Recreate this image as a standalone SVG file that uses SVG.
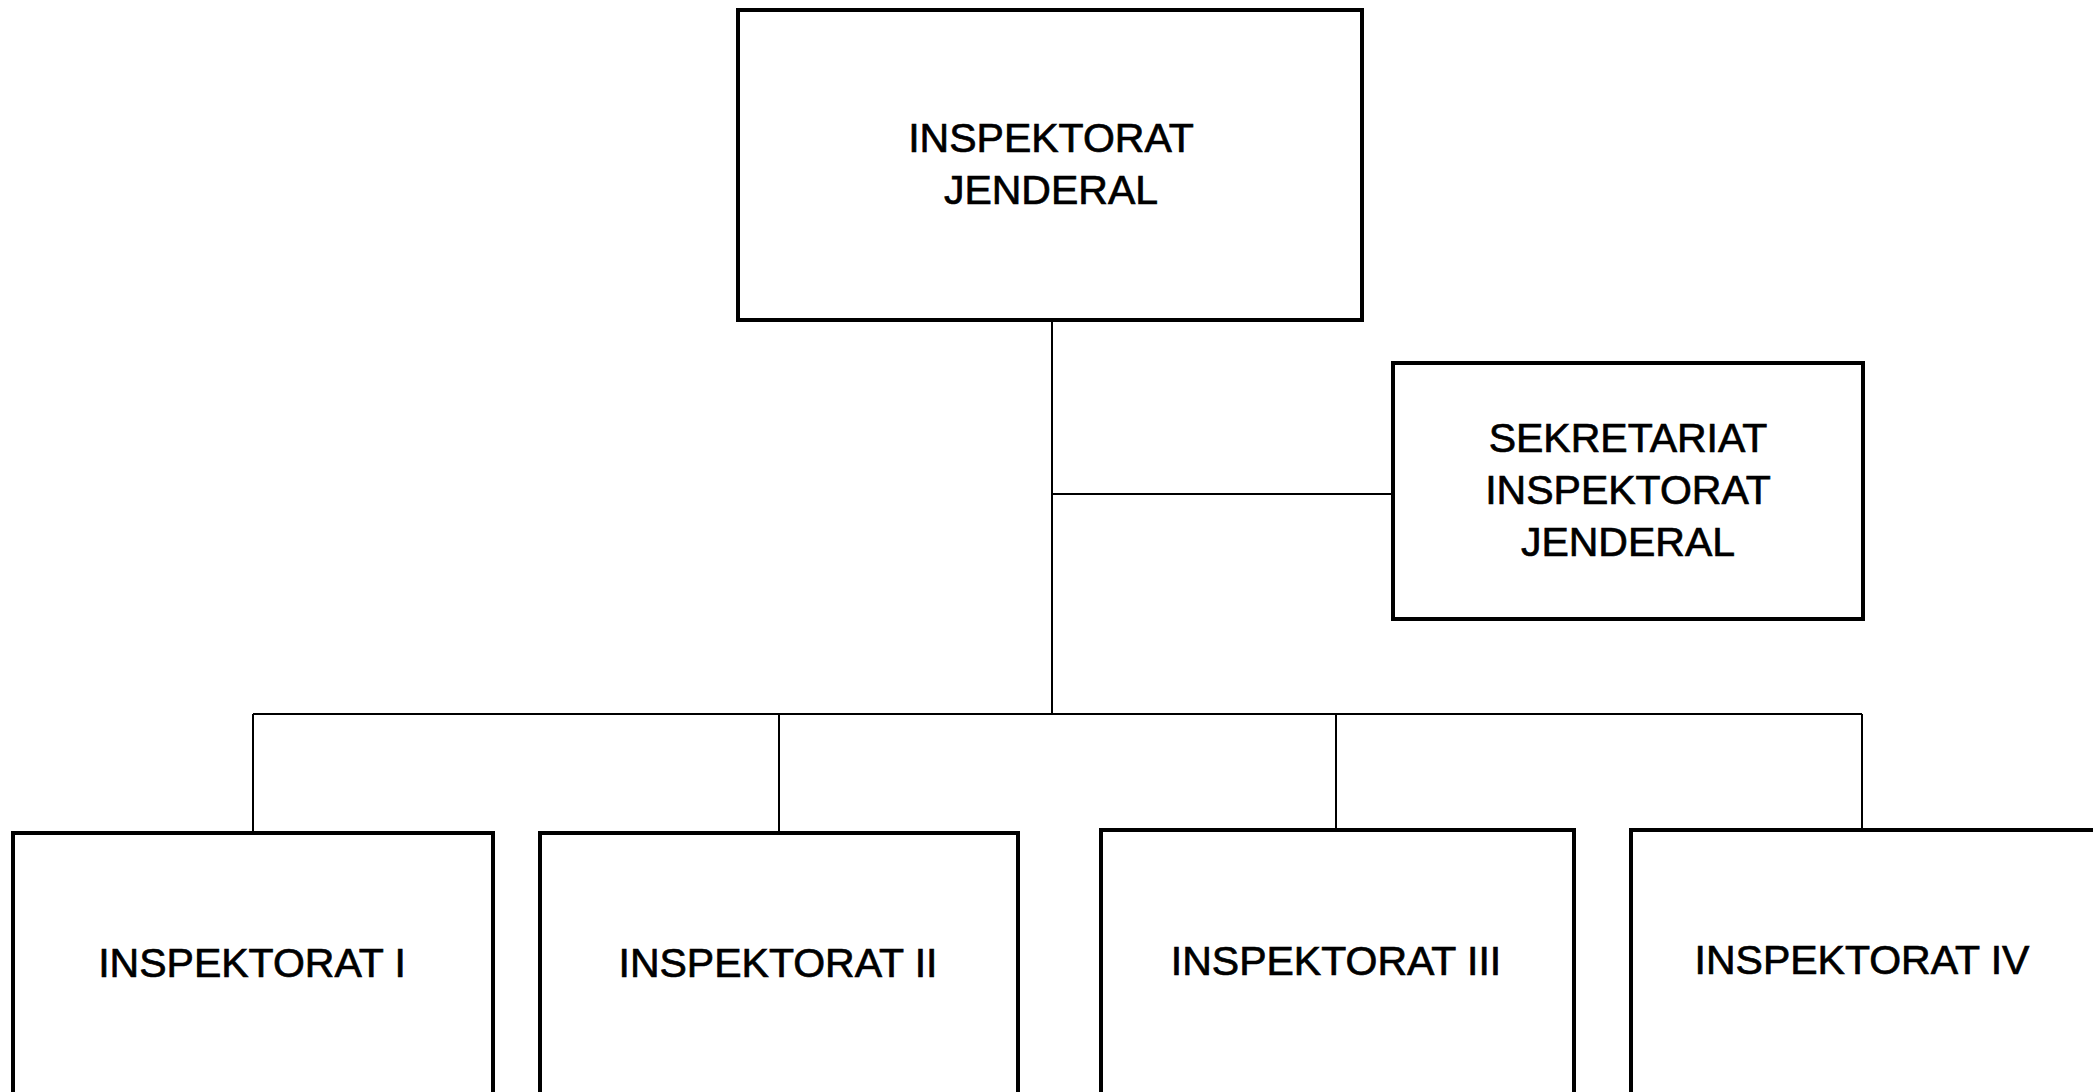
<svg xmlns="http://www.w3.org/2000/svg" width="2093" height="1092" viewBox="0 0 2093 1092">
<style>
.box{fill:#fff;stroke:#000;stroke-width:4}
.lbl{font-family:"Liberation Sans",Arial,sans-serif;font-size:41px;fill:#000;stroke:#000;stroke-width:0.7;text-anchor:middle}
.con{fill:none;stroke:#000;stroke-width:2}
</style>
<rect width="2093" height="1092" fill="#fff"/>
<g id="connectors">
<path class="con" d="M1052 320 V714"/>
<path class="con" d="M1052 494 H1393"/>
<path class="con" d="M253 714 H1862"/>
<path class="con" d="M253 714 V833"/>
<path class="con" d="M779 714 V833"/>
<path class="con" d="M1336 714 V830"/>
<path class="con" d="M1862 714 V830"/>
</g>
<g id="inspektorat-jenderal">
<rect class="box" x="738" y="10" width="624" height="310"/>
<text class="lbl" x="1051" y="152">INSPEKTORAT</text>
<text class="lbl" x="1051" y="204">JENDERAL</text>
</g>
<g id="sekretariat">
<rect class="box" x="1393" y="363" width="470" height="256"/>
<text class="lbl" x="1628" y="452">SEKRETARIAT</text>
<text class="lbl" x="1628" y="504">INSPEKTORAT</text>
<text class="lbl" x="1628" y="556">JENDERAL</text>
</g>
<g id="inspektorat-1">
<rect class="box" x="13" y="833" width="480" height="265"/>
<text class="lbl" x="252" y="977">INSPEKTORAT I</text>
</g>
<g id="inspektorat-2">
<rect class="box" x="540" y="833" width="478" height="265"/>
<text class="lbl" x="778" y="977">INSPEKTORAT II</text>
</g>
<g id="inspektorat-3">
<rect class="box" x="1101" y="830" width="473" height="268"/>
<text class="lbl" x="1336" y="975">INSPEKTORAT III</text>
</g>
<g id="inspektorat-4">
<rect class="box" x="1631" y="830" width="470" height="268"/>
<text class="lbl" x="1862" y="974">INSPEKTORAT IV</text>
</g>
</svg>
